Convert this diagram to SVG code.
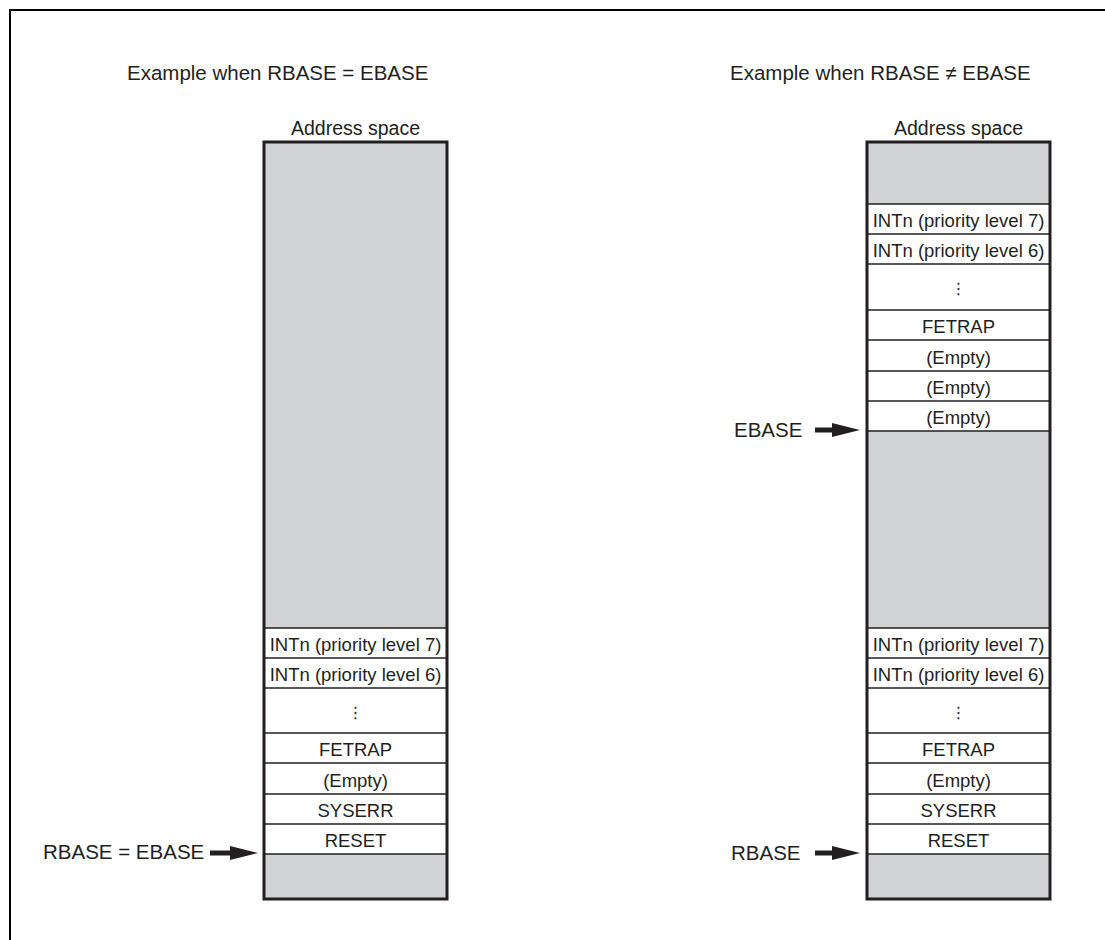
<svg xmlns="http://www.w3.org/2000/svg" width="1105" height="940" viewBox="0 0 1105 940">
<defs>
<style>
.t{font-family:"Liberation Sans",Arial,sans-serif;fill:#231f20}
.title{font-size:20.5px}
.lab{font-size:20.5px}
.cell{font-size:18.5px;text-anchor:middle}
.hdr{font-size:19.5px;text-anchor:middle}
.gray{fill:#d1d3d4;stroke:none}
.white{fill:#ffffff;stroke:none}
.sep{stroke:#231f20;stroke-width:1.5;fill:none}
.outer{fill:none;stroke:#231f20;stroke-width:3}
.arr{stroke:#231f20;stroke-width:5;fill:none}
</style>
<marker id="ah" markerUnits="userSpaceOnUse" markerWidth="30" markerHeight="16" refX="0" refY="7" orient="auto">
<path d="M0,0 L28,7 L0,14 Z" fill="#231f20"/>
</marker>
</defs>
<rect x="0" y="0" width="1105" height="940" fill="#ffffff"/>
<rect x="10" y="10" width="1200" height="1000" fill="none" stroke="#000000" stroke-width="2"/>

<g id="left-title"><text class="t title" x="127" y="80">Example when RBASE = EBASE</text></g>
<g id="right-title"><text class="t title" x="730" y="80">Example when RBASE ≠ EBASE</text></g>

<g id="left-address-space">
<text class="t hdr" x="355.5" y="135">Address space</text>
<rect class="white" x="264" y="142" width="183" height="757"/>
<rect class="gray" x="264" y="142" width="183" height="486"/>
<rect class="gray" x="264" y="854" width="183" height="45"/>
<line class="sep" x1="264" y1="628" x2="447" y2="628"/>
<line class="sep" x1="264" y1="658" x2="447" y2="658"/>
<line class="sep" x1="264" y1="688" x2="447" y2="688"/>
<line class="sep" x1="264" y1="733" x2="447" y2="733"/>
<line class="sep" x1="264" y1="763" x2="447" y2="763"/>
<line class="sep" x1="264" y1="794" x2="447" y2="794"/>
<line class="sep" x1="264" y1="824" x2="447" y2="824"/>
<line class="sep" x1="264" y1="854" x2="447" y2="854"/>
<text class="t cell" x="355.5" y="651">INTn (priority level 7)</text>
<text class="t cell" x="355.5" y="681">INTn (priority level 6)</text>
<text class="t cell" x="355.5" y="718" style="font-family:'DejaVu Sans',sans-serif;font-size:16px">⋮</text>
<text class="t cell" x="355.5" y="756">FETRAP</text>
<text class="t cell" x="355.5" y="787">(Empty)</text>
<text class="t cell" x="355.5" y="817">SYSERR</text>
<text class="t cell" x="355.5" y="847">RESET</text>
<rect class="outer" x="264" y="142" width="183" height="757"/>
</g>

<g id="right-address-space">
<text class="t hdr" x="958.5" y="135">Address space</text>
<rect class="white" x="867" y="142" width="183" height="757"/>
<rect class="gray" x="867" y="142" width="183" height="62"/>
<rect class="gray" x="867" y="431" width="183" height="197"/>
<rect class="gray" x="867" y="854" width="183" height="45"/>
<line class="sep" x1="867" y1="204" x2="1050" y2="204"/>
<line class="sep" x1="867" y1="234" x2="1050" y2="234"/>
<line class="sep" x1="867" y1="264" x2="1050" y2="264"/>
<line class="sep" x1="867" y1="310" x2="1050" y2="310"/>
<line class="sep" x1="867" y1="340" x2="1050" y2="340"/>
<line class="sep" x1="867" y1="371" x2="1050" y2="371"/>
<line class="sep" x1="867" y1="401" x2="1050" y2="401"/>
<line class="sep" x1="867" y1="431" x2="1050" y2="431"/>
<text class="t cell" x="958.5" y="227">INTn (priority level 7)</text>
<text class="t cell" x="958.5" y="257">INTn (priority level 6)</text>
<text class="t cell" x="958.5" y="294" style="font-family:'DejaVu Sans',sans-serif;font-size:16px">⋮</text>
<text class="t cell" x="958.5" y="333">FETRAP</text>
<text class="t cell" x="958.5" y="364">(Empty)</text>
<text class="t cell" x="958.5" y="394">(Empty)</text>
<text class="t cell" x="958.5" y="424">(Empty)</text>
<line class="sep" x1="867" y1="628" x2="1050" y2="628"/>
<line class="sep" x1="867" y1="658" x2="1050" y2="658"/>
<line class="sep" x1="867" y1="688" x2="1050" y2="688"/>
<line class="sep" x1="867" y1="733" x2="1050" y2="733"/>
<line class="sep" x1="867" y1="763" x2="1050" y2="763"/>
<line class="sep" x1="867" y1="794" x2="1050" y2="794"/>
<line class="sep" x1="867" y1="824" x2="1050" y2="824"/>
<line class="sep" x1="867" y1="854" x2="1050" y2="854"/>
<text class="t cell" x="958.5" y="651">INTn (priority level 7)</text>
<text class="t cell" x="958.5" y="681">INTn (priority level 6)</text>
<text class="t cell" x="958.5" y="718" style="font-family:'DejaVu Sans',sans-serif;font-size:16px">⋮</text>
<text class="t cell" x="958.5" y="756">FETRAP</text>
<text class="t cell" x="958.5" y="787">(Empty)</text>
<text class="t cell" x="958.5" y="817">SYSERR</text>
<text class="t cell" x="958.5" y="847">RESET</text>
<rect class="outer" x="867" y="142" width="183" height="757"/>
</g>

<g id="label-rbase-ebase"><text class="t lab" x="43" y="859">RBASE = EBASE</text></g>
<g id="label-ebase"><text class="t lab" x="734" y="437">EBASE</text></g>
<g id="label-rbase"><text class="t lab" x="731" y="860">RBASE</text></g>

<g id="connectors">
<line class="arr" x1="210" y1="853" x2="230" y2="853" marker-end="url(#ah)"/>
<line class="arr" x1="815" y1="430" x2="832" y2="430" marker-end="url(#ah)"/>
<line class="arr" x1="815" y1="853" x2="832" y2="853" marker-end="url(#ah)"/>
</g>
</svg>
